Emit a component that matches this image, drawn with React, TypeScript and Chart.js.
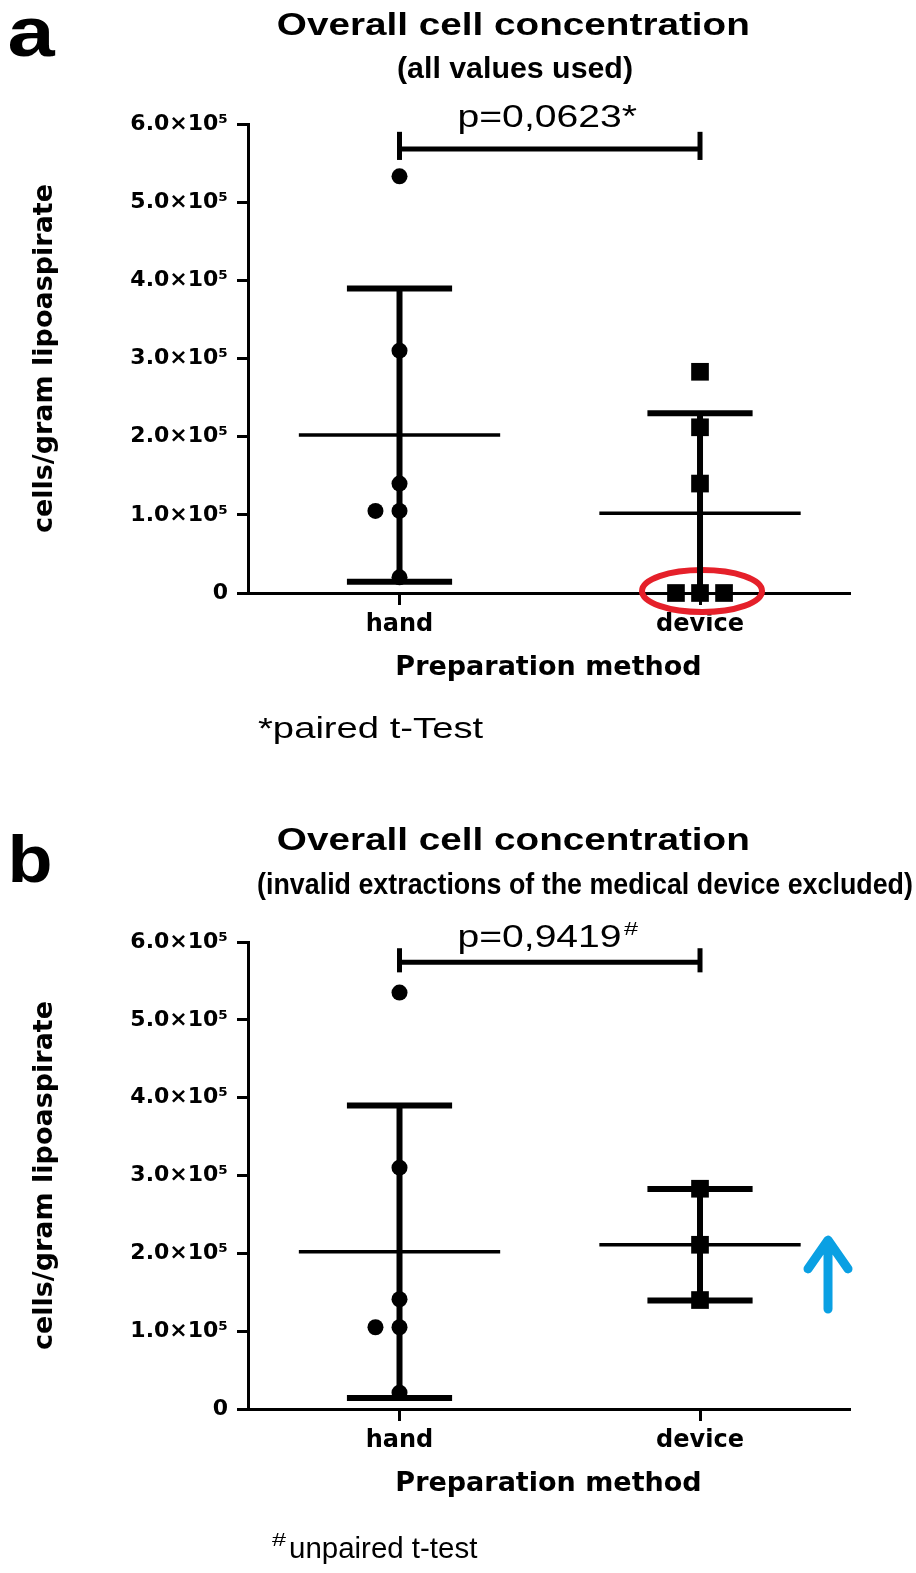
import React, { useEffect, useRef } from 'react';
import { Chart, registerables } from 'chart.js';

Chart.register(...registerables);

// ---------- data ----------
const CATEGORIES = ['hand', 'device'];
const CATEGORY_X = [1, 2];
const Y_TICK_VALUES = [0, 100000, 200000, 300000, 400000, 500000, 600000];
const Y_TICK_LABELS = ['0', '1.0×10⁵', '2.0×10⁵', '3.0×10⁵', '4.0×10⁵', '5.0×10⁵', '6.0×10⁵'];

// panel a: all values used
const HAND_A = [533000, 310000, 140000, 105000, 105000, 20000];
const HAND_A_OFFSET = [0, 0, 0, -0.08, 0, 0];
const DEVICE_A = [283000, 212000, 140000, 0, 0, 0];
const DEVICE_A_OFFSET = [0, 0, 0, -0.08, 0, 0.08];
const MEAN_A = [202000, 102000];
const SD_A = [187500, 128000];
const BRACKET_A = [568000, 554000, 590000]; // bar, end low, end high
const P_TEXT_A = 'p=0,0623*';

// panel b: invalid extractions excluded
const HAND_B = [535000, 310000, 141000, 105000, 105000, 21000];
const HAND_B_OFFSET = [0, 0, 0, -0.08, 0, 0];
const DEVICE_B = [283000, 211000, 140000];
const DEVICE_B_OFFSET = [0, 0, 0];
const MEAN_B = [202000, 211000];
const SD_B = [188000, 71500];
const BRACKET_B = [574000, 561000, 592000];
const P_TEXT_B = 'p=0,9419';

const X_MIN = 0.4958;
const X_MAX = 2.4958;

type Spec = {
  key: string;
  top: number;
  height: number;
  areaTop: number;
  areaBottom: number;
  hand: number[];
  handOff: number[];
  device: number[];
  devOff: number[];
  mean: number[];
  sd: number[];
  bracket: number[];
  draw: (chart: any) => void;
};

const BOLD = (s: number) => `bold ${s}px "Liberation Sans", Arial, sans-serif`;
const REG = (s: number) => `${s}px "Liberation Sans", Arial, sans-serif`;

function fitText(ctx: CanvasRenderingContext2D, text: string, font: string, x: number, baseline: number, width: number, align: 'left' | 'center', color = '#000') {
  ctx.save();
  ctx.font = font;
  ctx.textAlign = 'left';
  ctx.textBaseline = 'alphabetic';
  const m = ctx.measureText(text);
  const ink = m.actualBoundingBoxLeft + m.actualBoundingBoxRight;
  const s = width / ink;
  const left = align === 'center' ? x - width / 2 : x;
  ctx.translate(left, baseline);
  ctx.scale(s, 1);
  ctx.fillStyle = color;
  ctx.fillText(text, m.actualBoundingBoxLeft, 0);
  ctx.restore();
}

function buildDatasets(spec: Spec) {
  const black = '#000';
  const seg = (pts: { x: number; y: number }[], w: number) => ({
    type: 'line',
    data: pts,
    borderColor: black,
    backgroundColor: black,
    borderWidth: w,
    pointRadius: 0,
    showLine: true,
    fill: false,
    borderCapStyle: 'butt',
    order: 2,
  });
  const ds: any[] = [];
  CATEGORY_X.forEach((cx, i) => {
    const m = spec.mean[i];
    const s = spec.sd[i];
    ds.push(seg([{ x: cx - 0.335, y: m }, { x: cx + 0.335, y: m }], 3.5));
    ds.push(seg([{ x: cx, y: m - s }, { x: cx, y: m + s }], 6));
    ds.push(seg([{ x: cx - 0.175, y: m + s }, { x: cx + 0.175, y: m + s }], 6));
    ds.push(seg([{ x: cx - 0.175, y: m - s }, { x: cx + 0.175, y: m - s }], 6));
  });
  const [bar, lo, hi] = spec.bracket;
  const b1 = seg([{ x: CATEGORY_X[0], y: bar }, { x: CATEGORY_X[1], y: bar }], 5);
  const b2 = seg([{ x: CATEGORY_X[0], y: lo }, { x: CATEGORY_X[0], y: hi }], 5);
  const b3 = seg([{ x: CATEGORY_X[1], y: lo }, { x: CATEGORY_X[1], y: hi }], 5);
  [b1, b2, b3].forEach((d) => { (d as any).clip = false; ds.push(d); });
  ds.push({
    type: 'scatter',
    data: spec.hand.map((v, i) => ({ x: CATEGORY_X[0] + spec.handOff[i], y: v })),
    pointStyle: 'circle',
    pointRadius: 8,
    backgroundColor: black,
    borderColor: black,
    borderWidth: 0,
    clip: false,
    order: 0,
  });
  ds.push({
    type: 'scatter',
    data: spec.device.map((v, i) => ({ x: CATEGORY_X[1] + spec.devOff[i], y: v })),
    pointStyle: 'rect',
    pointRadius: 12.5,
    backgroundColor: black,
    borderColor: black,
    borderWidth: 0,
    clip: false,
    order: 0,
  });
  return ds;
}

function makeConfig(spec: Spec): any {
  const tickFontY = { family: '"DejaVu Sans"', weight: 'bold', size: 22 };
  const tickFontX = { family: '"DejaVu Sans"', weight: 'bold', size: 24 };
  const titleFont = { family: '"DejaVu Sans"', weight: 'bold', size: 27, lineHeight: 1.2 };
  const xScaleHeight = spec.height - spec.areaBottom;
  const xTitlePad = xScaleHeight - 75 - 16.2;
  return {
    type: 'scatter',
    data: { datasets: buildDatasets(spec) },
    options: {
      animation: false,
      responsive: false,
      maintainAspectRatio: false,
      events: [],
      layout: { padding: { top: spec.areaTop, right: 916 - 849, bottom: 0, left: 0 } },
      plugins: { legend: { display: false }, tooltip: { enabled: false }, title: { display: false } },
      scales: {
        x: {
          type: 'linear',
          position: 'bottom',
          min: X_MIN,
          max: X_MAX,
          afterBuildTicks: (s: any) => { s.ticks = CATEGORY_X.map((v) => ({ value: v })); },
          afterFit: (s: any) => { s.height = xScaleHeight; },
          ticks: {
            callback: (_v: any, i: number) => CATEGORIES[i],
            font: tickFontX,
            color: '#000',
            padding: 5,
            maxRotation: 0,
            autoSkip: false,
          },
          grid: { drawOnChartArea: false, drawTicks: true, tickLength: 12, lineWidth: 3, color: '#000' },
          border: { display: true, width: 3, color: '#000' },
          title: { display: true, text: 'Preparation method', font: titleFont, color: '#000', padding: { top: 0, bottom: xTitlePad } },
        },
        y: {
          type: 'linear',
          position: 'left',
          min: 0,
          max: 600000,
          afterBuildTicks: (s: any) => { s.ticks = Y_TICK_VALUES.map((v) => ({ value: v })); },
          afterFit: (s: any) => { s.width = 248; },
          ticks: {
            callback: (_v: any, i: number) => Y_TICK_LABELS[i],
            font: tickFontY,
            color: '#000',
            padding: 9,
          },
          grid: { drawOnChartArea: false, drawTicks: true, tickLength: 11, lineWidth: 3, color: '#000' },
          border: { display: true, width: 3, color: '#000' },
          title: { display: true, text: 'cells/gram lipoaspirate', font: titleFont, color: '#000', padding: { top: 29, bottom: 0 } },
        },
      },
    },
    plugins: [
      {
        id: 'annot-' + spec.key,
        beforeDatasetsDraw(chart: any) {
          if (spec.key !== 'a') return;
          const ctx = chart.ctx;
          const x = chart.scales.x.getPixelForValue(CATEGORY_X[1]);
          const y = chart.scales.y.getPixelForValue(0);
          ctx.save();
          ctx.strokeStyle = '#E5202A';
          ctx.lineWidth = 6;
          ctx.beginPath();
          ctx.ellipse(x + 2, y - 2, 60, 21, 0, 0, Math.PI * 2);
          ctx.stroke();
          ctx.restore();
        },
        afterDraw(chart: any) {
          spec.draw(chart);
        },
      },
    ],
  };
}

const SPEC_A: Spec = {
  key: 'a',
  top: 0,
  height: 790,
  areaTop: 124,
  areaBottom: 593,
  hand: HAND_A,
  handOff: HAND_A_OFFSET,
  device: DEVICE_A,
  devOff: DEVICE_A_OFFSET,
  mean: MEAN_A,
  sd: SD_A,
  bracket: BRACKET_A,
  draw: (chart: any) => {
    const ctx = chart.ctx;
    fitText(ctx, 'a', BOLD(70), 10, 56, 46, 'left');
    fitText(ctx, 'Overall cell concentration', BOLD(32), 513, 35, 470, 'center');
    fitText(ctx, '(all values used)', BOLD(30), 515, 78, 234, 'center');
    fitText(ctx, P_TEXT_A, REG(31), 460, 127, 177, 'left');
    fitText(ctx, '*paired t-Test', REG(30), 258, 738, 226, 'left');
  },
};

const SPEC_B: Spec = {
  key: 'b',
  top: 790,
  height: 783,
  areaTop: 152,
  areaBottom: 619,
  hand: HAND_B,
  handOff: HAND_B_OFFSET,
  device: DEVICE_B,
  devOff: DEVICE_B_OFFSET,
  mean: MEAN_B,
  sd: SD_B,
  bracket: BRACKET_B,
  draw: (chart: any) => {
    const ctx = chart.ctx;
    fitText(ctx, 'b', BOLD(66), 12, 92, 38, 'left');
    fitText(ctx, 'Overall cell concentration', BOLD(32), 513, 60, 470, 'center');
    fitText(ctx, '(invalid extractions of the medical device excluded)', BOLD(30), 585, 104, 654, 'center');
    fitText(ctx, P_TEXT_B, REG(31), 460, 157, 160, 'left');
    fitText(ctx, '#', REG(18), 624, 145, 14, 'left');
    fitText(ctx, '#', REG(18), 272, 756, 14, 'left');
    fitText(ctx, 'unpaired t-test', REG(30), 290, 768, 188, 'left');
    // blue arrow
    const xs = chart.scales.x;
    const ys = chart.scales.y;
    const ax = xs.getPixelForValue(CATEGORY_X[1]) + 128;
    const yBottom = ys.getPixelForValue(128500);
    const yTop = ys.getPixelForValue(217000);
    const yWing = ys.getPixelForValue(180000);
    ctx.save();
    ctx.strokeStyle = '#0AA0E3';
    ctx.lineWidth = 9;
    ctx.lineCap = 'round';
    ctx.lineJoin = 'round';
    ctx.beginPath();
    ctx.moveTo(ax, yBottom);
    ctx.lineTo(ax, yTop + 2);
    ctx.moveTo(ax - 20, yWing);
    ctx.lineTo(ax, yTop);
    ctx.lineTo(ax + 20, yWing);
    ctx.stroke();
    ctx.restore();
  },
};

function Panel({ spec }: { spec: Spec }) {
  const ref = useRef<HTMLCanvasElement | null>(null);
  useEffect(() => {
    if (!ref.current) return;
    const chart = new Chart(ref.current, makeConfig(spec));
    return () => chart.destroy();
  }, [spec]);
  return (
    <canvas
      ref={ref}
      width={916}
      height={spec.height}
      style={{ position: 'absolute', left: 0, top: spec.top, width: 916, height: spec.height, display: 'block' }}
    />
  );
}

export default function App() {
  useEffect(() => {
    document.body.style.margin = '0';
    document.body.style.background = '#fff';
  }, []);
  return (
    <div style={{ position: 'relative', width: 916, height: 1573, background: '#fff', overflow: 'hidden' }}>
      <Panel spec={SPEC_A} />
      <Panel spec={SPEC_B} />
    </div>
  );
}
